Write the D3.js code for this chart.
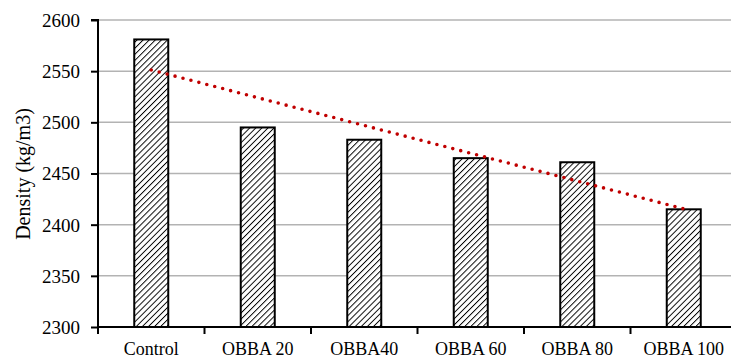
<!DOCTYPE html>
<html>
<head>
<meta charset="utf-8">
<script src="https://cdn.jsdelivr.net/npm/d3@7"></script>
<style>
  html, body { margin: 0; padding: 0; background: #fff; }
  svg { display: block; }
  text { font-family: "Liberation Serif", "Times New Roman", serif; fill: #000; }
</style>
</head>
<body>
<svg id="chart" width="731" height="358"></svg>
<script>
// Density of each mix (kg/m3)
const categories = ["Control", "OBBA 20", "OBBA40", "OBBA 60", "OBBA 80", "OBBA 100"];
const density = [2581, 2495, 2483, 2465, 2461, 2415];
const yTicks = [2300, 2350, 2400, 2450, 2500, 2550, 2600];
const yTitle = "Density (kg/m3)";

const svg = d3.select("#chart");
const plotL = 98, plotR = 737, plotT = 20, plotB = 327;

const x = d3.scaleBand().domain(categories).range([plotL, plotR]).paddingInner(0.68).paddingOuter(0.34);
const y = d3.scaleLinear().domain([2300, 2600]).range([plotB, plotT]);

// hatch fill for bars
const defs = svg.append("defs");
const pat = defs.append("pattern")
  .attr("id", "hatch").attr("patternUnits", "userSpaceOnUse")
  .attr("width", 4.3).attr("height", 4.3)
  .attr("patternTransform", "rotate(45)");
pat.append("rect").attr("width", 4.3).attr("height", 4.3).attr("fill", "#fff");
pat.append("line").attr("x1", 0).attr("y1", 0).attr("x2", 0).attr("y2", 4.3)
  .attr("stroke", "#000").attr("stroke-width", 1.9);

// horizontal gridlines
svg.append("g").selectAll("line").data(yTicks.filter(t => t > 2300)).join("line")
  .attr("x1", plotL).attr("x2", 731)
  .attr("y1", d => y(d)).attr("y2", d => y(d))
  .attr("stroke", "#b3b3b3").attr("stroke-width", 1.5);

// bars
const bw = 34;
svg.append("g").selectAll("rect").data(categories).join("rect")
  .attr("x", (d) => x(d) + x.bandwidth() / 2 - bw / 2)
  .attr("y", (d, i) => y(density[i]))
  .attr("width", bw)
  .attr("height", (d, i) => y(2300) - y(density[i]))
  .attr("fill", "url(#hatch)")
  .attr("stroke", "#000").attr("stroke-width", 2);

// y axis
const yAxis = d3.axisLeft(y).tickValues(yTicks).tickSize(7).tickPadding(11).tickFormat(d3.format("d"));
const gy = svg.append("g").attr("transform", `translate(${plotL},0)`).call(yAxis);
gy.select(".domain").attr("stroke", "#000").attr("stroke-width", 2).attr("d", `M-7,${plotT}H0V${plotB}`);
gy.selectAll(".tick line").attr("stroke", "#000").attr("stroke-width", 2);
gy.selectAll(".tick text").style("font-size", "19px").style("font-family", "Liberation Serif").attr("dy", "0.34em");

// x axis with ticks at category boundaries
const step = x.step();
const bounds = d3.range(categories.length).map(i => plotL + i * step);
svg.append("line").attr("x1", plotL).attr("x2", 731).attr("y1", plotB).attr("y2", plotB)
  .attr("stroke", "#000").attr("stroke-width", 2);
svg.append("g").selectAll("line").data(bounds).join("line")
  .attr("x1", d => d).attr("x2", d => d).attr("y1", plotB).attr("y2", plotB + 7)
  .attr("stroke", "#000").attr("stroke-width", 2);
svg.append("g").selectAll("text").data(categories).join("text")
  .attr("x", d => x(d) + x.bandwidth() / 2).attr("y", 355)
  .attr("text-anchor", "middle").style("font-size", "18px")
  .text(d => d);

// linear trend line through the bar values
const xs = density.map((d, i) => i + 1);
const mx = d3.mean(xs), my = d3.mean(density);
const slope = d3.sum(xs, (v, i) => (v - mx) * (density[i] - my)) / d3.sum(xs, v => (v - mx) ** 2);
const icpt = my - slope * mx;
const trend = [1, categories.length].map(v => [x(categories[v - 1]) + x.bandwidth() / 2, y(icpt + slope * v)]);
svg.append("path").attr("d", d3.line()(trend))
  .attr("fill", "none").attr("stroke", "#c00000").attr("stroke-width", 3.6)
  .attr("stroke-linecap", "round").attr("stroke-dasharray", "0 8.2");

// y axis title
svg.append("text").attr("transform", `translate(30,174) rotate(-90)`)
  .attr("text-anchor", "middle").style("font-size", "20px")
  .text(yTitle);
</script>
</body>
</html>
